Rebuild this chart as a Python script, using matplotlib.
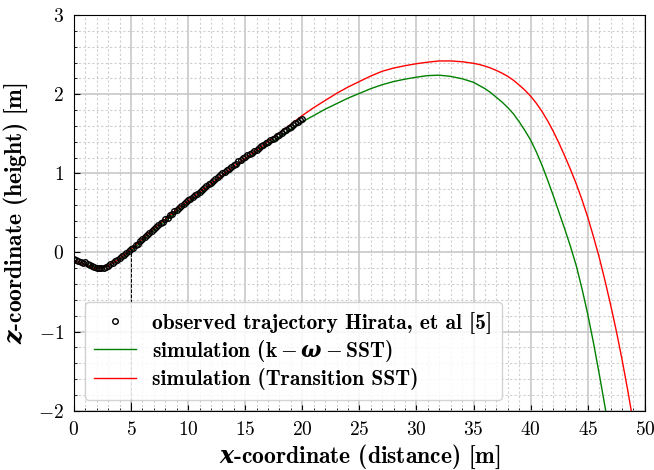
"""Ball trajectory: observed points vs two CFD turbulence models."""
import matplotlib

matplotlib.use("Agg")
import matplotlib.pyplot as plt
from matplotlib.ticker import MultipleLocator

plt.rcParams.update({
    "font.family": "cmr10",
    "axes.formatter.use_mathtext": True,
    "mathtext.fontset": "custom",
    "mathtext.rm": "cmb10",
    "mathtext.bf": "cmb10",
    "mathtext.it": "cmmi10",
    "mathtext.bfit": "DejaVu Serif:italic:bold",
    "mathtext.fallback": "cm",
})

# observed trajectory (Hirata et al.), sampled every 0.2 m
obs_x = [round(0.2 * i, 1) for i in range(101)]
obs_z = [
    -0.08, -0.10, -0.11, -0.12, -0.13, -0.12, -0.14, -0.16, -0.17, -0.18,
    -0.19, -0.20, -0.19, -0.19, -0.18, -0.17, -0.15, -0.13, -0.11, -0.09,
    -0.07, -0.05, -0.03, -0.01, 0.02, 0.04, 0.06, 0.09, 0.11, 0.14,
    0.17, 0.19, 0.22, 0.24, 0.27, 0.30, 0.32, 0.35, 0.37, 0.39,
    0.42, 0.44, 0.47, 0.49, 0.52, 0.54, 0.56, 0.59, 0.61, 0.64,
    0.66, 0.68, 0.70, 0.72, 0.74, 0.76, 0.79, 0.82, 0.84, 0.86,
    0.88, 0.90, 0.93, 0.95, 0.98, 1.00, 1.02, 1.04, 1.06, 1.08,
    1.10, 1.12, 1.15, 1.17, 1.19, 1.21, 1.23, 1.24, 1.26, 1.28,
    1.30, 1.32, 1.34, 1.36, 1.38, 1.40, 1.42, 1.43, 1.45, 1.47,
    1.49, 1.51, 1.53, 1.55, 1.57, 1.59, 1.61, 1.63, 1.65, 1.67,
    1.69,
]

# k-omega SST simulation
sst_x = [0, 1, 2, 3, 4, 5, 6, 7, 8, 9, 10, 11, 12, 13, 14, 15, 16, 17, 18, 19,
         20, 21, 22, 23, 24, 25, 26, 27, 28, 29, 30, 31, 32, 33, 34, 35,
         35.5, 36, 36.5, 37, 37.5, 38, 38.5, 39, 39.5, 40, 40.5, 41, 41.5,
         42, 42.5, 43, 43.5, 44, 44.5, 45, 45.5, 46, 46.5, 47]
sst_z = [-0.10, -0.15, -0.19, -0.17, -0.09, 0.02, 0.15, 0.28, 0.40, 0.52,
         0.63, 0.74, 0.85, 0.96, 1.06, 1.17, 1.27, 1.37, 1.46, 1.56,
         1.65, 1.73, 1.81, 1.88, 1.95, 2.01, 2.07, 2.12, 2.16, 2.19,
         2.215, 2.235, 2.24, 2.225, 2.195, 2.15,
         2.11, 2.07, 2.02, 1.96, 1.90, 1.83, 1.75, 1.65, 1.54, 1.42,
         1.27, 1.10, 0.91, 0.71, 0.50, 0.29, 0.07, -0.17, -0.46, -0.78,
         -1.14, -1.53, -1.94, -2.36]

# Transition SST simulation
trans_x = [0, 1, 2, 3, 4, 5, 6, 7, 8, 9, 10, 11, 12, 13, 14, 15, 16, 17, 18, 19,
           20, 21, 22, 23, 24, 25, 26, 27, 28, 29, 30, 31, 32, 33, 34, 35,
           35.5, 36, 36.5, 37, 37.5, 38, 38.5, 39, 39.5, 40, 40.5, 41, 41.5,
           42, 42.5, 43, 43.5, 44, 44.5, 45, 45.5, 46, 46.5, 47, 47.5, 48,
           48.5, 49]
trans_z = [-0.10, -0.16, -0.21, -0.17, -0.08, 0.04, 0.17, 0.30, 0.42, 0.54,
           0.65, 0.76, 0.87, 0.98, 1.09, 1.19, 1.29, 1.40, 1.51, 1.62,
           1.73, 1.83, 1.92, 2.01, 2.09, 2.16, 2.23, 2.29, 2.33, 2.36,
           2.385, 2.405, 2.42, 2.42, 2.41, 2.39,
           2.375, 2.355, 2.33, 2.30, 2.265, 2.225, 2.175, 2.115, 2.05, 1.975,
           1.885, 1.78, 1.66, 1.525, 1.375, 1.215, 1.045, 0.865, 0.665, 0.445,
           0.20, -0.06, -0.35, -0.66, -0.99, -1.35, -1.74, -2.16]

marker_x = 5
marker_z = 0.04

fig = plt.figure(figsize=(6.54, 4.70), dpi=100)
ax = fig.add_axes([0.113, 0.126, 0.873, 0.842])

ax.plot(obs_x, obs_z, "o", mfc="none", mec="black", ms=4, mew=1.0,
        label="observed trajectory Hirata, et al [5]", zorder=3)
ax.plot(sst_x, sst_z, color="green", lw=1.0,
        label=r"simulation ($\mathbf{k}-\mathbfit{\omega}-\mathbf{SST}$)", zorder=2)
ax.plot(trans_x, trans_z, color="red", lw=1.0,
        label="simulation (Transition SST)", zorder=2)
ax.plot([marker_x, marker_x], [-2, marker_z], color="black", ls="--", lw=0.7, zorder=1)

ax.set_xlim(0, 50)
ax.set_ylim(-2, 3)
ax.xaxis.set_major_locator(MultipleLocator(5))
ax.xaxis.set_minor_locator(MultipleLocator(1))
ax.yaxis.set_major_locator(MultipleLocator(1))
ax.yaxis.set_minor_locator(MultipleLocator(0.2))
ax.tick_params(which="both", direction="in", labelsize=14, pad=7)
ax.tick_params(which="major", length=4)
ax.tick_params(which="minor", length=2)

ax.grid(which="major", color="#c4c4c4", lw=1.1, ls="-")
ax.grid(which="minor", color="#cfcfcf", lw=0.8, ls=(0, (2, 2)))
ax.set_axisbelow(True)

ax.set_xlabel(r"$\mathbfit{x}$-coordinate (distance) [m]", family="cmb10", fontsize=17, labelpad=3)
ax.set_ylabel(r"$\mathbfit{z}$-coordinate (height) [m]", family="cmb10", fontsize=17, labelpad=6)

leg = ax.legend(loc="lower left", prop={"family": "cmb10", "size": 15.5}, framealpha=0.85,
                handlelength=1.95, handletextpad=0.75, labelspacing=0.2,
                borderpad=0.45, borderaxespad=0.5)

fig.savefig("out.png", dpi=100)
